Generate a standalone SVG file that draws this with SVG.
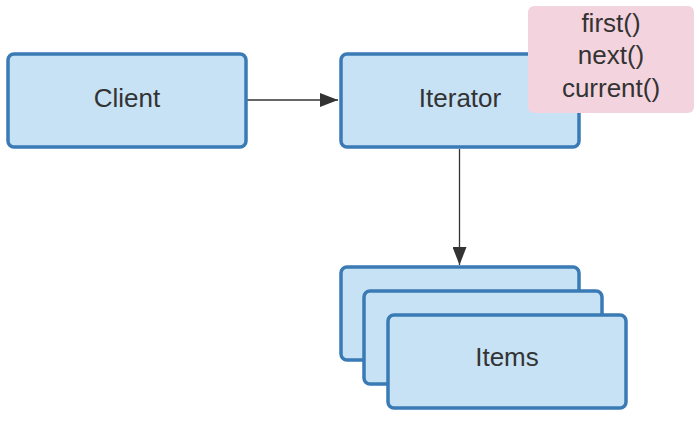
<svg xmlns="http://www.w3.org/2000/svg" width="700" height="428" viewBox="0 0 700 428">
<style>
.box{fill:#c7e1f5;stroke:#3a7bb6;stroke-width:3.5}
.lbl{font-family:"Liberation Sans",Arial,sans-serif;font-size:26px;fill:#333333;text-anchor:middle;dominant-baseline:central}
.edge{stroke:#333333;stroke-width:1.3;fill:none}
</style>
<defs>
<marker id="arr" markerWidth="20" markerHeight="14" refX="18" refY="7" orient="auto" markerUnits="userSpaceOnUse">
<path d="M0,0 L18,7 L0,14 Z" fill="#333333"/>
</marker>
</defs>
<rect width="700" height="428" fill="#ffffff"/>
<g id="connectors">
<path class="edge" d="M247,100 H338" marker-end="url(#arr)"/>
<path class="edge" d="M459.5,149 V265" marker-end="url(#arr)"/>
</g>
<g id="client">
<rect class="box" x="8" y="54" width="238" height="93" rx="6"/>
<text class="lbl" x="127" y="98">Client</text>
</g>
<g id="iterator">
<rect class="box" x="341" y="54" width="238" height="93" rx="6"/>
<text class="lbl" x="460" y="98">Iterator</text>
</g>
<g id="note">
<rect x="528" y="6" width="166" height="107" rx="6" fill="#f3d3dd"/>
<text class="lbl" x="611" y="23">first()</text>
<text class="lbl" x="611" y="55">next()</text>
<text class="lbl" x="611" y="88">current()</text>
</g>
<g id="items">
<rect class="box" x="341" y="267" width="238" height="93" rx="6"/>
<rect class="box" x="364" y="291" width="238" height="93" rx="6"/>
<rect class="box" x="388" y="315" width="238" height="93" rx="6"/>
<text class="lbl" x="507" y="357">Items</text>
</g>
</svg>
